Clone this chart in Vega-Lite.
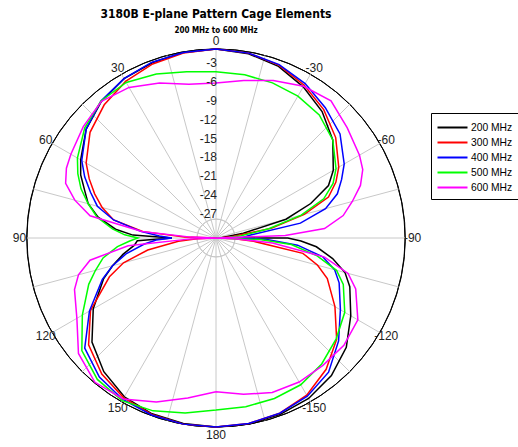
{
  "$schema": "https://vega.github.io/schema/vega-lite/v6.json",
  "autosize": "none",
  "width": 378,
  "height": 378,
  "padding": {"left": 27, "top": 49, "right": 113, "bottom": 20},
  "background": "white",
  "title": {
    "text": "3180B E-plane Pattern Cage Elements",
    "subtitle": "200 MHz to 600 MHz",
    "anchor": "middle",
    "frame": "group",
    "font": "Liberation Sans Narrow, DejaVu Sans Condensed, Liberation Sans",
    "fontSize": 12,
    "fontWeight": "bold",
    "color": "black",
    "subtitleFont": "Liberation Sans Narrow, DejaVu Sans Condensed, Liberation Sans",
    "subtitleFontSize": 8,
    "subtitleFontWeight": "bold",
    "subtitleColor": "black",
    "subtitlePadding": 6,
    "offset": -1
  },
  "config": {"view": {"stroke": null}, "font": "Liberation Sans"},
  "layer": [
    {
      "data": {"values": [
        {"lvl": -27}, {"lvl": -24}, {"lvl": -21}, {"lvl": -18}, {"lvl": -15},
        {"lvl": -12}, {"lvl": -9}, {"lvl": -6}, {"lvl": -3}, {"lvl": 0}
      ]},
      "mark": {"type": "arc", "theta": 0, "theta2": 6.3, "filled": false, "strokeWidth": 1},
      "encoding": {
        "radius": {"field": "lvl", "type": "quantitative", "scale": {"type": "linear", "domain": [-30, 0], "range": [0, 189], "zero": false}, "legend": null},
        "stroke": {"condition": {"test": "datum.lvl == 0", "value": "black"}, "value": "#c8c8c8"}
      }
    },
    {
      "data": {"values": [
        {"a": 0}, {"a": 15}, {"a": 30}, {"a": 45}, {"a": 60}, {"a": 75},
        {"a": 90}, {"a": 105}, {"a": 120}, {"a": 135}, {"a": 150}, {"a": 165},
        {"a": 180}, {"a": 195}, {"a": 210}, {"a": 225}, {"a": 240}, {"a": 255},
        {"a": 270}, {"a": 285}, {"a": 300}, {"a": 315}, {"a": 330}, {"a": 345}
      ]},
      "transform": [
        {"calculate": "0", "as": "c"},
        {"calculate": "-30 * sin(datum.a * PI / 180)", "as": "sx"},
        {"calculate": "30 * cos(datum.a * PI / 180)", "as": "sy"}
      ],
      "mark": {"type": "rule", "color": "#c8c8c8", "strokeWidth": 1},
      "encoding": {
        "x": {"field": "c", "type": "quantitative", "scale": {"domain": [-30, 30], "nice": false, "zero": false}, "axis": null},
        "y": {"field": "c", "type": "quantitative", "scale": {"domain": [-30, 30], "nice": false, "zero": false}, "axis": null},
        "x2": {"field": "sx"},
        "y2": {"field": "sy"}
      }
    },
    {
      "data": {"values": [
        {"a": -180, "200 MHz": 0, "300 MHz": 0, "400 MHz": 0, "500 MHz": -2.7, "600 MHz": -5.6},
        {"a": -170, "200 MHz": 0, "300 MHz": -0.1, "400 MHz": -0.1, "500 MHz": -2.8, "600 MHz": -4.8},
        {"a": -160, "200 MHz": -0.2, "300 MHz": -0.4, "400 MHz": -0.4, "500 MHz": -2.9, "600 MHz": -3.9},
        {"a": -150, "200 MHz": -0.6, "300 MHz": -1.2, "400 MHz": -1.0, "500 MHz": -3.1, "600 MHz": -3.6},
        {"a": -140, "200 MHz": -1.5, "300 MHz": -2.8, "400 MHz": -2.2, "500 MHz": -3.9, "600 MHz": -3.6},
        {"a": -130, "200 MHz": -3.0, "300 MHz": -5.0, "400 MHz": -4.6, "500 MHz": -5.1, "600 MHz": -3.5},
        {"a": -120, "200 MHz": -5.3, "300 MHz": -8.2, "400 MHz": -7.2, "500 MHz": -6.4, "600 MHz": -4.0},
        {"a": -110, "200 MHz": -7.4, "300 MHz": -11.2, "400 MHz": -9.2, "500 MHz": -8.5, "600 MHz": -6.4},
        {"a": -105, "200 MHz": -8.8, "300 MHz": -13.3, "400 MHz": -10.5, "500 MHz": -10.2, "600 MHz": -8.3},
        {"a": -100, "200 MHz": -11.2, "300 MHz": -16.0, "400 MHz": -12.8, "500 MHz": -13.7, "600 MHz": -12.5},
        {"a": -95, "200 MHz": -14.0, "300 MHz": -24.0, "400 MHz": -17.0, "500 MHz": -18.0, "600 MHz": -21.0},
        {"a": -92, "200 MHz": -16.5, "300 MHz": -27.0, "400 MHz": -21.7, "500 MHz": -23.0, "600 MHz": -27.0},
        {"a": -90, "200 MHz": -18.6, "300 MHz": -30, "400 MHz": -26.0, "500 MHz": -30, "600 MHz": -30},
        {"a": -88, "200 MHz": -30, "300 MHz": -29.5, "400 MHz": -25.5, "500 MHz": -28.0, "600 MHz": -19.0},
        {"a": -85, "200 MHz": -29.0, "300 MHz": -27.5, "400 MHz": -24.5, "500 MHz": -26.0, "600 MHz": -12.7},
        {"a": -80, "200 MHz": -25.6, "300 MHz": -21.0, "400 MHz": -16.4, "500 MHz": -21.5, "600 MHz": -9.5},
        {"a": -75, "200 MHz": -18.5, "300 MHz": -15.5, "400 MHz": -12.0, "500 MHz": -16.0, "600 MHz": -7.6},
        {"a": -70, "200 MHz": -14.0, "300 MHz": -11.0, "400 MHz": -9.5, "500 MHz": -11.8, "600 MHz": -5.6},
        {"a": -65, "200 MHz": -10.3, "300 MHz": -9.0, "400 MHz": -8.0, "500 MHz": -9.5, "600 MHz": -4.3},
        {"a": -60, "200 MHz": -8.5, "300 MHz": -7.5, "400 MHz": -6.5, "500 MHz": -8.0, "600 MHz": -3.7},
        {"a": -50, "200 MHz": -5.8, "300 MHz": -5.2, "400 MHz": -4.3, "500 MHz": -5.8, "600 MHz": -2.8},
        {"a": -40, "200 MHz": -3.8, "300 MHz": -3.4, "400 MHz": -3.0, "500 MHz": -4.5, "600 MHz": -1.6},
        {"a": -30, "200 MHz": -2.3, "300 MHz": -2.0, "400 MHz": -1.7, "500 MHz": -4.0, "600 MHz": -2.2},
        {"a": -20, "200 MHz": -1.0, "300 MHz": -0.8, "400 MHz": -0.7, "500 MHz": -3.8, "600 MHz": -3.4},
        {"a": -10, "200 MHz": -0.3, "300 MHz": -0.2, "400 MHz": -0.2, "500 MHz": -3.7, "600 MHz": -4.6},
        {"a": 0, "200 MHz": 0, "300 MHz": 0, "400 MHz": 0, "500 MHz": -3.6, "600 MHz": -5.4},
        {"a": 10, "200 MHz": -0.1, "300 MHz": -0.2, "400 MHz": -0.1, "500 MHz": -3.2, "600 MHz": -5.2},
        {"a": 20, "200 MHz": -0.4, "300 MHz": -0.6, "400 MHz": -0.3, "500 MHz": -2.3, "600 MHz": -3.8},
        {"a": 30, "200 MHz": -0.8, "300 MHz": -1.3, "400 MHz": -0.8, "500 MHz": -1.5, "600 MHz": -2.4},
        {"a": 40, "200 MHz": -1.7, "300 MHz": -2.4, "400 MHz": -1.6, "500 MHz": -1.6, "600 MHz": -1.7},
        {"a": 50, "200 MHz": -3.1, "300 MHz": -3.9, "400 MHz": -3.1, "500 MHz": -2.8, "600 MHz": -2.5},
        {"a": 60, "200 MHz": -5.2, "300 MHz": -6.2, "400 MHz": -5.4, "500 MHz": -4.6, "600 MHz": -3.4},
        {"a": 65, "200 MHz": -6.3, "300 MHz": -7.8, "400 MHz": -7.0, "500 MHz": -5.8, "600 MHz": -3.8},
        {"a": 70, "200 MHz": -7.8, "300 MHz": -9.5, "400 MHz": -8.8, "500 MHz": -7.2, "600 MHz": -4.6},
        {"a": 75, "200 MHz": -9.0, "300 MHz": -11.3, "400 MHz": -10.5, "500 MHz": -9.0, "600 MHz": -6.8},
        {"a": 80, "200 MHz": -11.0, "300 MHz": -13.5, "400 MHz": -13.5, "500 MHz": -10.8, "600 MHz": -9.7},
        {"a": 85, "200 MHz": -14.0, "300 MHz": -18.4, "400 MHz": -18.0, "500 MHz": -13.5, "600 MHz": -18.2},
        {"a": 88, "200 MHz": -16.8, "300 MHz": -25.0, "400 MHz": -21.0, "500 MHz": -15.5, "600 MHz": -26.0},
        {"a": 90, "200 MHz": -23.0, "300 MHz": -30, "400 MHz": -23.0, "500 MHz": -17.6, "600 MHz": -30},
        {"a": 92, "200 MHz": -17.5, "300 MHz": -27.0, "400 MHz": -20.5, "500 MHz": -16.3, "600 MHz": -26.0},
        {"a": 95, "200 MHz": -17.0, "300 MHz": -24.0, "400 MHz": -18.5, "500 MHz": -14.3, "600 MHz": -16.0},
        {"a": 100, "200 MHz": -15.0, "300 MHz": -19.0, "400 MHz": -15.5, "500 MHz": -11.8, "600 MHz": -9.7},
        {"a": 105, "200 MHz": -13.0, "300 MHz": -14.8, "400 MHz": -13.0, "500 MHz": -10.2, "600 MHz": -7.4},
        {"a": 110, "200 MHz": -11.0, "300 MHz": -12.0, "400 MHz": -10.8, "500 MHz": -8.5, "600 MHz": -6.1},
        {"a": 120, "200 MHz": -7.5, "300 MHz": -7.0, "400 MHz": -6.8, "500 MHz": -5.5, "600 MHz": -4.5},
        {"a": 130, "200 MHz": -4.3, "300 MHz": -3.6, "400 MHz": -2.8, "500 MHz": -2.2, "600 MHz": -1.5},
        {"a": 140, "200 MHz": -2.3, "300 MHz": -1.8, "400 MHz": -1.2, "500 MHz": -0.7, "600 MHz": -0.1},
        {"a": 150, "200 MHz": -0.9, "300 MHz": -0.7, "400 MHz": -0.4, "500 MHz": -0.2, "600 MHz": -0.5},
        {"a": 160, "200 MHz": -0.3, "300 MHz": -0.2, "400 MHz": -0.1, "500 MHz": -0.8, "600 MHz": -2.3},
        {"a": 170, "200 MHz": -0.1, "300 MHz": 0, "400 MHz": 0, "500 MHz": -1.8, "600 MHz": -4.2},
        {"a": 180, "200 MHz": 0, "300 MHz": 0, "400 MHz": 0, "500 MHz": -2.7, "600 MHz": -5.6}
      ]},
      "transform": [
        {"fold": ["200 MHz", "300 MHz", "400 MHz", "500 MHz", "600 MHz"], "as": ["freq", "db"]},
        {"calculate": "max(datum.db + 30, 0)", "as": "r"},
        {"calculate": "-datum.r * sin(datum.a * PI / 180)", "as": "px"},
        {"calculate": "datum.r * cos(datum.a * PI / 180)", "as": "py"}
      ],
      "mark": {"type": "line", "strokeWidth": 1.5},
      "encoding": {
        "x": {"field": "px", "type": "quantitative"},
        "y": {"field": "py", "type": "quantitative"},
        "order": {"field": "a", "type": "quantitative"},
        "color": {
          "field": "freq",
          "type": "nominal",
          "scale": {
            "domain": ["200 MHz", "300 MHz", "400 MHz", "500 MHz", "600 MHz"],
            "range": ["#000000", "#ff0000", "#0000ff", "#00ff00", "#ff00ff"]
          },
          "legend": {
            "title": null,
            "orient": "none",
            "legendX": 404,
            "legendY": 64,
            "symbolType": "M-2,0H2",
            "symbolSize": 225,
            "symbolStrokeWidth": 2,
            "symbolOffset": 7,
            "labelFont": "Liberation Sans",
            "labelFontSize": 10.3,
            "labelColor": "black",
            "labelOffset": 10,
            "rowPadding": 1,
            "strokeColor": "black",
            "fillColor": "white",
            "padding": 6
          }
        }
      }
    },
    {
      "data": {"values": [
        {"a": 0, "t": "0"}, {"a": 30, "t": "30"}, {"a": 60, "t": "60"},
        {"a": 90, "t": "90"}, {"a": 120, "t": "120"}, {"a": 150, "t": "150"},
        {"a": 180, "t": "180"}, {"a": -150, "t": "-150"}, {"a": -120, "t": "-120"},
        {"a": -90, "t": "-90"}, {"a": -60, "t": "-60"}, {"a": -30, "t": "-30"}
      ]},
      "transform": [
        {"calculate": "-31.2 * sin(datum.a * PI / 180)", "as": "lx"},
        {"calculate": "31.2 * cos(datum.a * PI / 180)", "as": "ly"}
      ],
      "mark": {"type": "text", "fontSize": 12, "color": "#222", "align": "center", "baseline": "middle"},
      "encoding": {
        "x": {"field": "lx", "type": "quantitative"},
        "y": {"field": "ly", "type": "quantitative"},
        "text": {"field": "t"}
      }
    },
    {
      "data": {"values": [
        {"lvl": -3, "t": "-3"}, {"lvl": -6, "t": "-6"}, {"lvl": -9, "t": "-9"},
        {"lvl": -12, "t": "-12"}, {"lvl": -15, "t": "-15"}, {"lvl": -18, "t": "-18"},
        {"lvl": -21, "t": "-21"}, {"lvl": -24, "t": "-24"}, {"lvl": -27, "t": "-27"}
      ]},
      "transform": [
        {"calculate": "0", "as": "c"},
        {"calculate": "datum.lvl + 30", "as": "ry"}
      ],
      "mark": {"type": "text", "fontSize": 12, "color": "#222", "align": "right", "baseline": "middle", "dy": -5, "dx": 1},
      "encoding": {
        "x": {"field": "c", "type": "quantitative"},
        "y": {"field": "ry", "type": "quantitative"},
        "text": {"field": "t"}
      }
    }
  ]
}
